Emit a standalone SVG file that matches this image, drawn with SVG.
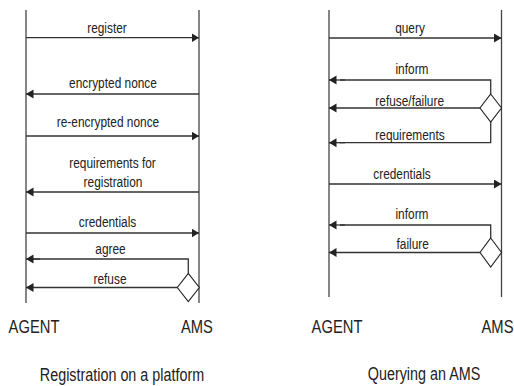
<svg xmlns="http://www.w3.org/2000/svg" width="514" height="386" viewBox="0 0 514 386">
<style>
.life{stroke:#444;stroke-width:1.3;fill:none}
.msg{stroke:#333;stroke-width:1.3;fill:none;marker-end:url(#ah)}
.ln{stroke:#333;stroke-width:1.3;fill:none}
.dia{stroke:#222;stroke-width:1.1;fill:#fff}
text{font-family:"Liberation Sans",Arial,sans-serif;fill:#222;text-anchor:middle}
.lb{font-size:14.5px}
.role{font-size:18px}
.cap{font-size:17.5px}
</style>
<defs>
<marker id="ah" markerUnits="userSpaceOnUse" markerWidth="8" markerHeight="10" refX="7.5" refY="4.5" orient="auto">
<path d="M0,0 L7.5,4.5 L0,9 z" fill="#222"/>
</marker>
</defs>
<rect width="514" height="386" fill="#fff"/>

<g id="agent-left">
<line class="life" x1="26" y1="10" x2="26" y2="303"/>
<text class="role" transform="scale(0.82,1)" x="41.46" y="333">AGENT</text>
</g>
<g id="ams-left">
<line class="life" x1="199" y1="10" x2="199" y2="303"/>
<text class="role" transform="scale(0.82,1)" x="240.24" y="333">AMS</text>
</g>
<g id="decision-left">
<polygon class="dia" points="188.3,273.3 199.3,287.5 188.3,301.7 177.3,287.5"/>
</g>
<g id="caption-left">
<text class="cap" transform="scale(0.82,1)" x="148.78" y="381">Registration on a platform</text>
</g>

<g id="agent-right">
<line class="life" x1="329" y1="10" x2="329" y2="297"/>
<text class="role" transform="scale(0.82,1)" x="410.98" y="333">AGENT</text>
</g>
<g id="ams-right">
<line class="life" x1="501.5" y1="10" x2="501.5" y2="297"/>
<text class="role" transform="scale(0.82,1)" x="606.71" y="333">AMS</text>
</g>
<g id="decision-right-1">
<polygon class="dia" points="490.7,94 501.5,108 490.7,122 480,108"/>
</g>
<g id="decision-right-2">
<polygon class="dia" points="490.7,238 501.5,252.5 490.7,267 480,252.5"/>
</g>
<g id="caption-right">
<text class="cap" transform="scale(0.82,1)" x="517.07" y="380">Querying an AMS</text>
</g>

<g id="connectors">
<line class="msg" x1="26" y1="37.7" x2="199" y2="37.7"/>
<text class="lb" transform="scale(0.82,1)" x="130.49" y="33">register</text>
<line class="msg" x1="199" y1="94" x2="26" y2="94"/>
<text class="lb" transform="scale(0.82,1)" x="137.80" y="88.3">encrypted nonce</text>
<line class="msg" x1="26" y1="136" x2="199" y2="136"/>
<text class="lb" transform="scale(0.82,1)" x="131.71" y="127.3">re-encrypted nonce</text>
<line class="msg" x1="199" y1="192" x2="26" y2="192"/>
<text class="lb" transform="scale(0.82,1)" x="137.20" y="168">requirements for</text>
<text class="lb" transform="scale(0.82,1)" x="137.80" y="187">registration</text>
<line class="msg" x1="26" y1="233" x2="199" y2="233"/>
<text class="lb" transform="scale(0.82,1)" x="131.10" y="227.3">credentials</text>
<polyline class="ln" points="188.3,273.3 188.3,259 32,259"/>
<line class="msg" x1="40" y1="259" x2="26" y2="259"/>
<text class="lb" transform="scale(0.82,1)" x="134.76" y="254">agree</text>
<line class="msg" x1="177.3" y1="287.5" x2="26" y2="287.5"/>
<text class="lb" transform="scale(0.82,1)" x="134.15" y="284.3">refuse</text>

<line class="msg" x1="329" y1="38" x2="501.5" y2="38"/>
<text class="lb" transform="scale(0.82,1)" x="500" y="33">query</text>
<polyline class="ln" points="490.7,94 490.7,80 340,80"/>
<line class="msg" x1="345" y1="80" x2="329" y2="80"/>
<text class="lb" transform="scale(0.82,1)" x="502.44" y="74">inform</text>
<line class="msg" x1="480" y1="108" x2="329" y2="108"/>
<text class="lb" transform="scale(0.82,1)" x="499.63" y="106">refuse/failure</text>
<polyline class="ln" points="490.7,122 490.7,142.7 340,142.7"/>
<line class="msg" x1="345" y1="142.7" x2="329" y2="142.7"/>
<text class="lb" transform="scale(0.82,1)" x="500" y="140.5">requirements</text>
<line class="msg" x1="329" y1="184" x2="501.5" y2="184"/>
<text class="lb" transform="scale(0.82,1)" x="490.24" y="179">credentials</text>
<polyline class="ln" points="490.7,238 490.7,225 340,225"/>
<line class="msg" x1="345" y1="225" x2="329" y2="225"/>
<text class="lb" transform="scale(0.82,1)" x="502.44" y="219">inform</text>
<line class="msg" x1="480" y1="252.5" x2="329" y2="252.5"/>
<text class="lb" transform="scale(0.82,1)" x="503.29" y="249">failure</text>
</g>
</svg>
